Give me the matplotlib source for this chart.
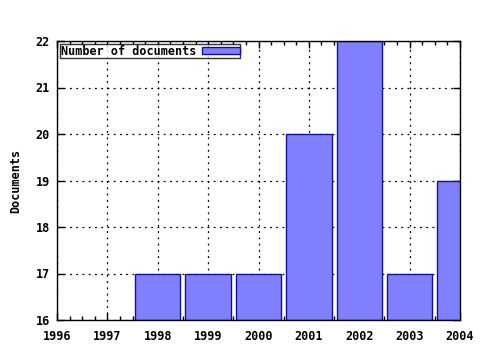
import matplotlib
matplotlib.use("Agg")
import matplotlib.pyplot as plt
import matplotlib.ticker as ticker

# Data
years = [1998, 1999, 2000, 2001, 2002, 2003, 2004]
documents = [17, 17, 17, 20, 22, 17, 19]
series_label = "Number of documents"

plt.rcParams["font.family"] = ["DejaVu Sans Mono"]
plt.rcParams["font.weight"] = "bold"

fig = plt.figure(figsize=(4.8, 3.5), dpi=100)
ax = fig.add_axes([57 / 480, 1 - 320 / 350, (460 - 57) / 480, (320 - 41) / 350])

# Bars start from the bottom of the axis (16)
ax.bar(years, [d - 16 for d in documents], bottom=16, width=0.9,
       color="#8080ff", edgecolor="#1010a0", linewidth=1.0,
       label=series_label, zorder=2)

ax.set_xlim(1996, 2004)
ax.set_ylim(16, 22)
ax.xaxis.set_major_locator(ticker.MultipleLocator(1))
ax.xaxis.set_minor_locator(ticker.MultipleLocator(0.25))
ax.yaxis.set_major_locator(ticker.MultipleLocator(1))

ax.tick_params(which="both", direction="in", top=True, right=True,
               labelsize=8.5, width=1, color="black")
ax.tick_params(which="major", length=5, pad=5)
ax.tick_params(axis="x", which="major", pad=7)
ax.tick_params(which="minor", length=3)
for lbl in ax.get_xticklabels() + ax.get_yticklabels():
    lbl.set_fontweight("bold")

ax.grid(True, which="major", color="black", linestyle=(0, (1.5, 3.5)), linewidth=0.9, zorder=1)
ax.set_axisbelow(True)
for s in ax.spines.values():
    s.set_linewidth(1.0)

ax.set_ylabel("Documents", fontsize=8.5, fontweight="bold", labelpad=10)

leg = ax.legend(loc="upper left", markerfirst=False,
                prop={"weight": "bold", "size": 8.5},
                frameon=True, fancybox=False, borderpad=0.05,
                handlelength=3.2, handleheight=0.55, handletextpad=0.5,
                borderaxespad=0.25)
leg.get_frame().set_edgecolor("black")
leg.get_frame().set_linewidth(1.0)

fig.savefig("out.png", dpi=100)
